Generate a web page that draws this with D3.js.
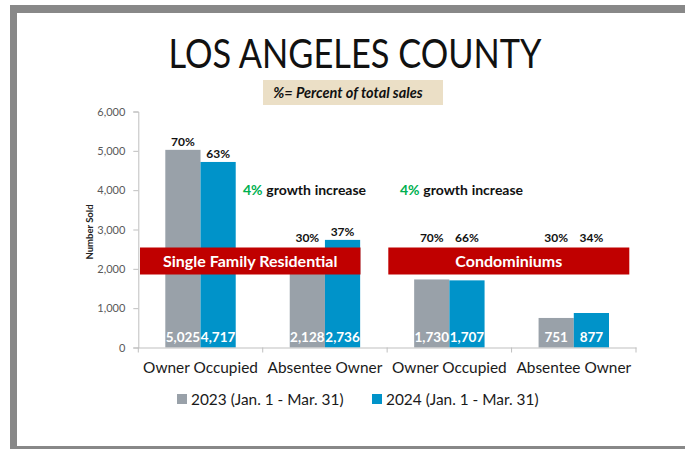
<!DOCTYPE html>
<html><head><meta charset="utf-8">
<script src="https://cdn.jsdelivr.net/npm/d3@7"></script>
<style>
html,body{margin:0;padding:0;background:#fff;}
svg{display:block;}
text{font-family:Lato,"Open Sans",sans-serif;}
</style></head>
<body>
<svg id="chart" width="685" height="449"></svg>
<script>
const categories = ["Owner Occupied", "Absentee Owner", "Owner Occupied", "Absentee Owner"];
const series = ["2023 (Jan. 1 - Mar. 31)", "2024 (Jan. 1 - Mar. 31)"];
const values2023 = [5025, 2128, 1730, 751];
const values2024 = [4717, 2736, 1707, 877];
const pct2023 = ["70%", "30%", "70%", "30%"];
const pct2024 = ["63%", "37%", "66%", "34%"];
const yTicks = [0, 1000, 2000, 3000, 4000, 5000, 6000];
const groups = [
  {name: "Single Family Residential", from: 0, to: 1, growth: "4%"},
  {name: "Condominiums", from: 2, to: 3, growth: "4%"}
];
const colors = ["#99A1A9", "#0093C9"];

const svg = d3.select("#chart");

// frame
svg.append("rect").attr("x",10).attr("y",5).attr("width",675).attr("height",8).attr("fill","#888");
svg.append("rect").attr("x",10).attr("y",5).attr("width",7).attr("height",444).attr("fill","#888");
svg.append("rect").attr("x",10).attr("y",446).attr("width",675).attr("height",3).attr("fill","#888");

// title
svg.append("text").attr("x",355).attr("y",68).attr("text-anchor","middle")
  .attr("font-size",40).attr("fill","#111")
  .attr("textLength",373).attr("lengthAdjust","spacingAndGlyphs")
  .text("LOS ANGELES COUNTY");
svg.append("rect").attr("x",263).attr("y",80).attr("width",180).attr("height",25).attr("fill","#EBDFC6");
svg.append("text").attr("x",348).attr("y",98).attr("text-anchor","middle")
  .attr("font-size",14.5).attr("font-weight","bold").attr("font-style","italic").attr("fill","#111")
  .text("%= Percent of total sales");

const x0 = d3.scaleBand().domain(d3.range(categories.length)).range([138.3, 636]).padding(0);
const x1 = d3.scaleBand().domain([0,1]).range([0, x0.bandwidth()]).paddingInner(0).paddingOuter(0.767);
const y = d3.scaleLinear().domain([0, 6000]).range([347.5, 111.5]);

// y axis
const yAxis = d3.axisLeft(y).tickValues(yTicks).tickFormat(d3.format(",")).tickSize(5).tickPadding(8);
const ya = svg.append("g").attr("transform","translate(138.3,0)").call(yAxis);
ya.select(".domain").attr("stroke","#BFBFBF");
ya.selectAll(".tick line").attr("stroke","#BFBFBF");
ya.selectAll("text").attr("font-family","Lato").attr("font-size",11).attr("fill","#595959");

svg.append("text").attr("transform","translate(93,232) rotate(-90)").attr("text-anchor","middle")
  .attr("font-size",9.5).attr("font-weight","bold").attr("fill","#222").text("Number Sold");

// bars
const data = categories.map((c,i)=>({i, vals:[values2023[i], values2024[i]], pcts:[pct2023[i], pct2024[i]]}));
const g = svg.append("g");
data.forEach(d=>{
  d.vals.forEach((v,s)=>{
    const bx = x0(d.i) + x1(s);
    g.append("rect").attr("x",bx).attr("y",y(v)).attr("width",x1.bandwidth()).attr("height",y(0)-y(v)).attr("fill",colors[s]);
  });
});

// x axis
const xAxis = d3.axisBottom(x0).tickFormat(i=>categories[i]).tickSize(0).tickPadding(15);
const xa = svg.append("g").attr("transform",`translate(0,${y(0)})`).call(xAxis);
xa.select(".domain").attr("stroke","#BFBFBF");
xa.selectAll("text").attr("font-family","Lato").attr("font-size",15.4).attr("fill","#1a1a1a");
// category boundary ticks
const bounds = d3.range(categories.length+1).map(i=> i<categories.length ? x0(i) : x0(i-1)+x0.bandwidth());
svg.append("g").selectAll("line").data(bounds).join("line")
  .attr("x1",d=>d).attr("x2",d=>d).attr("y1",y(0)).attr("y2",y(0)+5).attr("stroke","#BFBFBF");

// value labels
data.forEach(d=>{
  d.vals.forEach((v,s)=>{
    const cx = x0(d.i) + x1(s) + x1.bandwidth()/2;
    svg.append("text").attr("x",cx).attr("y",y(0)-5.5).attr("text-anchor","middle")
      .attr("font-size",13.5).attr("font-weight","bold").attr("fill","#fff").text(d3.format(",")(v));
  });
});

// band banners
const bandTop = 247.5, bandH = 27;
const bandX = [[140, 360.5], [388.3, 629.3]];
groups.forEach((gr,k)=>{
  const [bx0, bx1] = bandX[k];
  svg.append("rect").attr("x",bx0).attr("y",bandTop).attr("width",bx1-bx0).attr("height",bandH).attr("fill","#C00000");
  svg.append("text").attr("x",(bx0+bx1)/2).attr("y",bandTop+bandH/2+5.5).attr("text-anchor","middle")
    .attr("font-size",16).attr("font-weight","bold").attr("fill","#fff").text(gr.name);
});

// percent labels
data.forEach(d=>{
  d.vals.forEach((v,s)=>{
    const cx = x0(d.i) + x1(s) + x1.bandwidth()/2;
    const ty = Math.min(y(v)-3.5, bandTop-6);
    svg.append("text").attr("x",cx).attr("y",ty).attr("text-anchor","middle")
      .attr("font-size",12).attr("font-weight","bold").attr("fill","#111").text(d.pcts[s]);
  });
});

// growth notes
const growthX = [243, 400];
groups.forEach((gr,k)=>{
  const t = svg.append("text").attr("x",growthX[k]).attr("y",195).attr("font-size",14).attr("font-weight","bold")
    .attr("word-spacing",0.3);
  t.append("tspan").attr("fill","#00B050").text(gr.growth);
  t.append("tspan").attr("fill","#111").text(" growth increase");
});

// legend
const legX = [177, 372];
series.forEach((s,k)=>{
  svg.append("rect").attr("x",legX[k]).attr("y",394).attr("width",10).attr("height",10).attr("fill",colors[k]);
  svg.append("text").attr("x",legX[k]+14).attr("y",404.5).attr("font-size",15.4).attr("fill","#1a1a1a").text(s);
});
</script>
</body></html>
